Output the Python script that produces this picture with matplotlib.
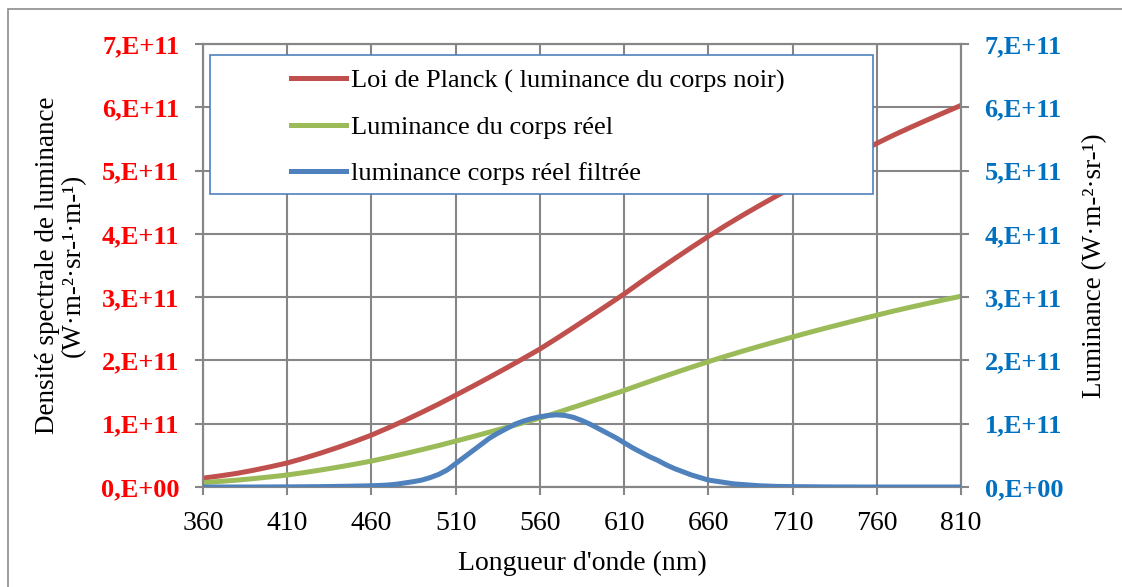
import numpy as np
import matplotlib.pyplot as plt
from matplotlib.patches import Rectangle

plt.rcParams['font.family'] = ['Liberation Serif', 'DejaVu Serif']

# longueurs d'onde (nm)
wl = list(range(360, 811, 10))

# loi de Planck (x1e11)
planck = [0.14, 0.175, 0.215, 0.265, 0.32, 0.38, 0.455, 0.537, 0.625, 0.719,
          0.82, 0.935, 1.055, 1.181, 1.312, 1.45, 1.59, 1.733, 1.879, 2.028,
          2.18, 2.348, 2.52, 2.695, 2.872, 3.05, 3.24, 3.426, 3.608, 3.786,
          3.96, 4.128, 4.288, 4.442, 4.592, 4.74, 4.885, 5.025, 5.162, 5.297,
          5.43, 5.56, 5.682, 5.8, 5.916, 6.03]

# corps reel (x1e11)
reel = [0.07, 0.088, 0.108, 0.133, 0.16, 0.19, 0.228, 0.269, 0.313, 0.36,
        0.41, 0.468, 0.528, 0.591, 0.656, 0.725, 0.795, 0.867, 0.94, 1.014,
        1.09, 1.174, 1.26, 1.348, 1.436, 1.525, 1.62, 1.713, 1.804, 1.893,
        1.98, 2.064, 2.144, 2.221, 2.296, 2.37, 2.443, 2.513, 2.581, 2.649,
        2.715, 2.78, 2.841, 2.9, 2.958, 3.015]

# corps reel filtre (x1e11), pas de 5 nm
wl_f = list(range(360, 811, 5))
filtre = [0.0, 0.0, 0.0, 0.0, 0.0, 0.0, 0.0, 0.001, 0.001, 0.002,
          0.002, 0.003, 0.004, 0.005, 0.006, 0.008, 0.010, 0.012, 0.014, 0.017,
          0.02, 0.025, 0.032, 0.045, 0.065, 0.085, 0.11, 0.15, 0.20, 0.27,
          0.37, 0.47, 0.57, 0.67, 0.77, 0.85, 0.92, 0.99, 1.04, 1.08,
          1.11, 1.13, 1.14, 1.13, 1.10, 1.05, 0.99, 0.92, 0.85, 0.78,
          0.70, 0.62, 0.55, 0.48, 0.42, 0.35, 0.29, 0.24, 0.19, 0.15,
          0.11, 0.09, 0.07, 0.05, 0.04, 0.03, 0.02, 0.015, 0.01, 0.008,
          0.006, 0.005, 0.004, 0.003, 0.002, 0.001, 0.001, 0.001, 0.0, 0.0,
          0.0, 0.0, 0.0, 0.0, 0.0, 0.0, 0.0, 0.0, 0.0, 0.0, 0.0]

labels = ['Loi de Planck ( luminance du corps noir)',
          'Luminance du corps réel',
          'luminance corps réel filtrée']

xticks = list(range(360, 811, 50))
yticks = [i * 1e11 for i in range(8)]
ytick_labels = ['0,E+00', '1,E+11', '2,E+11', '3,E+11', '4,E+11', '5,E+11', '6,E+11', '7,E+11']

grid_c = '#868686'

fig = plt.figure(figsize=(11.22, 5.87), dpi=100)
fig.patches.append(Rectangle((8 / 1122, -0.1), 1.2, 1.1 - 9 / 587,
                             transform=fig.transFigure, fill=False,
                             edgecolor='#8c8c8c', lw=1.2))
ax = fig.add_axes([203 / 1122, 100 / 587, 758 / 1122, 443 / 587])
ax2 = ax.twinx()

l1, = ax.plot(wl, np.array(planck) * 1e11, color='#C0504D', lw=3.6, zorder=4)
l2, = ax.plot(wl, np.array(reel) * 1e11, color='#9BBB59', lw=3.6, zorder=4)
l3, = ax2.plot(wl_f, np.array(filtre) * 1e11, color='#4F81BD', lw=3.6, zorder=4)

for a in (ax, ax2):
    a.set_xlim(360, 810)
    a.set_ylim(0, 7e11)
    a.set_yticks(yticks)
    for s in a.spines.values():
        s.set_color(grid_c)
        s.set_linewidth(1.5)

ax.set_xticks(xticks)
ax.set_xticklabels([str(x) for x in xticks], fontsize=20)
ax.set_yticklabels(ytick_labels, fontsize=19, fontweight='bold')
ax2.set_yticklabels(ytick_labels, fontsize=19, fontweight='bold')
ax.grid(True, color=grid_c, lw=1.5)
ax.set_axisbelow(True)
ax.tick_params(axis='x', colors=grid_c, length=6, width=1.5, pad=11)
ax.tick_params(axis='y', colors=grid_c, length=6, width=1.5, pad=11)
ax2.tick_params(axis='y', colors=grid_c, length=6, width=1.5, pad=11)
for t in ax.get_xticklabels():
    t.set_color('black')
for t in ax.get_yticklabels():
    t.set_color('#FF0000')
for t in ax2.get_yticklabels():
    t.set_color('#0070C0')

ax.set_xlabel("Longueur d'onde (nm)", fontsize=20, labelpad=11)
ax.set_ylabel('Densité spectrale de luminance\n(W·m-²·sr-¹·m-¹)', fontsize=19.5,
              labelpad=11, linespacing=1.05)
ax2.set_ylabel('Luminance (W·m-²·sr-¹)', fontsize=19.5, labelpad=14)

# cadre de la legende (par-dessus la courbe rouge)
ax2.add_patch(Rectangle((0.009, 0.661), 0.875, 0.314, transform=ax.transAxes,
                        facecolor='white', edgecolor='#4F81BD', lw=1.2, zorder=5))
leg = ax2.legend([l1, l2, l3], labels, loc='upper left', bbox_to_anchor=(0.099, 0.973),
                 frameon=False, fontsize=19, handlelength=2.08, handletextpad=0.19,
                 labelspacing=0.85, borderpad=0.0)
leg.set_zorder(6)

plt.savefig('out.png', dpi=100)
